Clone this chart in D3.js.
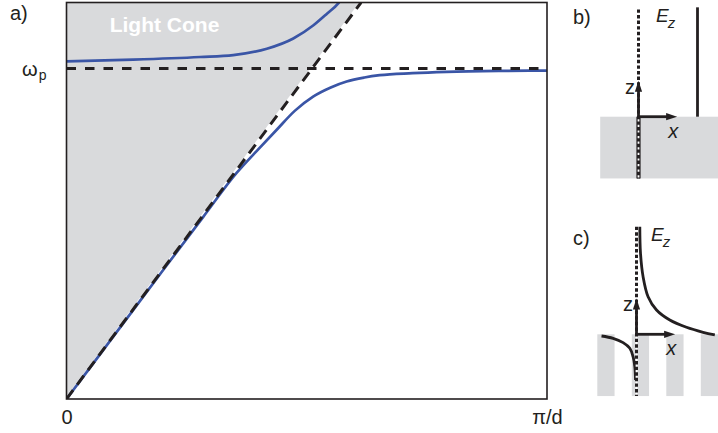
<!DOCTYPE html>
<html>
<head>
<meta charset="utf-8">
<script src="https://cdn.jsdelivr.net/npm/d3@7"></script>
<style>
  body { margin: 0; background: #fff; }
  svg { display: block; font-family: "Liberation Sans", Arial, sans-serif; }
</style>
</head>
<body>
<svg id="chart" width="718" height="433"></svg>
<script>
// ---- a) dispersion of the spoof surface plasmon (k in units of π/d, ω in units of ωp)
const kRange = [0, 1];
const omegaRange = [0, 1.2];
const omegaP = 1;
const lightLine = [[0, 0], [0.613, 1.2]];
const lightCone = [[0, 0], [0, 1.2], [0.613, 1.2]];
const lowerBand = [
  [0, 0], [0.1, 0.194], [0.2, 0.388], [0.285, 0.552], [0.354, 0.684],
  [0.4, 0.757], [0.4375, 0.815], [0.475, 0.872], [0.514, 0.916], [0.55, 0.943],
  [0.583, 0.961], [0.62, 0.973], [0.652, 0.98], [0.72, 0.986], [0.791, 0.99],
  [0.9, 0.993], [1.0, 0.994]
];
const upperBand = [
  [0, 1.022], [0.139, 1.027], [0.278, 1.035], [0.347, 1.041], [0.417, 1.06],
  [0.472, 1.091], [0.514, 1.131], [0.542, 1.166], [0.566, 1.198], [0.585, 1.24]
];
const kTickValues = [0, 1];
const kTickLabels = ["0", "π/d"];

// ---- b) flat conductor: field profile (x, z in units of d)
const flatMetal = [[-1.11, 2.32, -1.79]];          // [x0, x1, depth]
const flatFieldAbove = [[1.71, 0], [1.71, 3.17]];
const flatFieldInside = [[0, 0], [0, -1.79]];
const flatGuide = [[0, 3.11], [0, -1.79]];

// ---- c) corrugated conductor: field profile
const pillarStarts = [-1.136, -0.136, 0.864, 1.864];
const pillarWidth = 0.5;
const pillarDepth = -1.79;
const grooveFieldAbove = [
  [0.096, 3.12], [0.116, 2.35], [0.191, 1.67], [0.336, 1.09], [0.58, 0.704],
  [0.965, 0.414], [1.449, 0.203], [1.93, 0.058], [2.27, -0.02]
];
const grooveFieldInside = [
  [-1.014, -0.049], [-0.678, -0.116], [-0.388, -0.243], [-0.194, -0.406],
  [-0.099, -0.649], [-0.049, -0.939], [-0.029, -1.325]
];
const grooveGuide = [[0, 3.12], [0, -1.79]];
const axisLength = [1.12, 1.04];                    // x-arrow, z-arrow

const ink = "#231f20";
const blue = "#3a55a6";
const grey = "#d9dadc";

const svg = d3.select("#chart");

// ================= panel a =================
const x = d3.scaleLinear().domain(kRange).range([66.5, 547]);
const y = d3.scaleLinear().domain(omegaRange).range([399, 2.5]);

svg.append("clipPath").attr("id", "plot-clip")
  .append("rect")
  .attr("x", x(kRange[0])).attr("y", y(omegaRange[1]))
  .attr("width", x(kRange[1]) - x(kRange[0]))
  .attr("height", y(omegaRange[0]) - y(omegaRange[1]));

const plot = svg.append("g").attr("clip-path", "url(#plot-clip)");
const line = d3.line().x(d => x(d[0])).y(d => y(d[1]));
const smooth = d3.line().x(d => x(d[0])).y(d => y(d[1])).curve(d3.curveMonotoneX);

plot.append("path").attr("d", line(lightCone) + "Z").attr("fill", grey);

plot.append("text")
  .attr("x", 164.5).attr("y", 31.5)
  .attr("text-anchor", "middle")
  .attr("fill", "#fff").attr("font-weight", "bold").attr("font-size", 21)
  .text("Light Cone");

// white edge under the dashed light line
plot.append("path").attr("d", line(lightLine))
  .attr("stroke", "#fff").attr("stroke-width", 3).attr("fill", "none");

plot.append("path").attr("d", smooth(lowerBand))
  .attr("stroke", blue).attr("stroke-width", 2.7).attr("fill", "none");
plot.append("path").attr("d", smooth(upperBand))
  .attr("stroke", blue).attr("stroke-width", 2.7).attr("fill", "none");

plot.append("path").attr("d", line(lightLine))
  .attr("stroke", ink).attr("stroke-width", 3).attr("fill", "none")
  .attr("stroke-dasharray", "11,7");

plot.append("path").attr("d", line([[kRange[0], omegaP], [kRange[1], omegaP]]))
  .attr("stroke", ink).attr("stroke-width", 3).attr("fill", "none")
  .attr("stroke-dasharray", "9.5,9");

// frame
svg.append("rect")
  .attr("x", x(kRange[0])).attr("y", y(omegaRange[1]))
  .attr("width", x(kRange[1]) - x(kRange[0]))
  .attr("height", y(omegaRange[0]) - y(omegaRange[1]))
  .attr("fill", "none").attr("stroke", ink).attr("stroke-width", 1.6);

// k axis labels
const kAxis = svg.append("g")
  .attr("transform", `translate(0,${y(omegaRange[0])})`)
  .call(d3.axisBottom(x).tickValues(kTickValues)
    .tickFormat((d, i) => kTickLabels[i]).tickSize(0).tickPadding(11));
kAxis.select(".domain").remove();
kAxis.selectAll("text")
  .attr("font-family", "\"Liberation Sans\", Arial, sans-serif")
  .attr("font-size", 20).attr("fill", ink);

// ωp label
const wp = svg.append("text")
  .attr("x", 22).attr("y", y(omegaP) + 7)
  .attr("font-size", 20).attr("fill", ink);
wp.append("tspan").text("ω");
wp.append("tspan").attr("font-size", 14).attr("dy", 4).attr("dx", 1).text("p");

svg.append("text").attr("x", 10).attr("y", 20)
  .attr("font-size", 20).attr("fill", ink).text("a)");

// ================= insets b and c =================
const unit = 34.5;
function arrow(g, sx, sz, dir) {
  const len = dir === "x" ? axisLength[0] : axisLength[1];
  const tip = dir === "x" ? [sx(len), sz(0)] : [sx(0), sz(len)];
  const o = [sx(0), sz(0)];
  const head = 11, half = 3.6;
  if (dir === "x") {
    g.append("line").attr("x1", o[0]).attr("y1", o[1]).attr("x2", tip[0] - head + 1).attr("y2", tip[1])
      .attr("stroke", ink).attr("stroke-width", 2.8);
    g.append("path").attr("d", `M${tip[0]},${tip[1]}L${tip[0] - head},${tip[1] - half}L${tip[0] - head},${tip[1] + half}Z`)
      .attr("fill", ink);
  } else {
    g.append("line").attr("x1", o[0]).attr("y1", o[1]).attr("x2", tip[0]).attr("y2", tip[1] + head - 1)
      .attr("stroke", ink).attr("stroke-width", 2.8);
    g.append("path").attr("d", `M${tip[0]},${tip[1]}L${tip[0] - half},${tip[1] + head}L${tip[0] + half},${tip[1] + head}Z`)
      .attr("fill", ink);
  }
  return tip;
}
function guide(g, pts, ln) {
  g.append("path").attr("d", ln(pts)).attr("stroke", "#fff").attr("stroke-width", 1.8).attr("fill", "none");
  g.append("path").attr("d", ln(pts)).attr("stroke", ink).attr("stroke-width", 3)
    .attr("stroke-dasharray", "3.4,2.2").attr("fill", "none");
}
function labels(g, sx, sz, tagY, tagText, ezX, ezY) {
  g.append("text").attr("x", 573).attr("y", tagY).attr("font-size", 20).attr("fill", ink).text(tagText);
  const ez = g.append("text").attr("x", ezX).attr("y", ezY).attr("font-size", 19)
    .attr("font-style", "italic").attr("fill", ink);
  ez.append("tspan").text("E");
  ez.append("tspan").attr("font-size", 15).attr("dy", 6).attr("dx", -1).text("z");
  g.append("text").attr("x", sx(0) - 3.5).attr("y", sz(axisLength[1]) + 13)
    .attr("text-anchor", "end").attr("font-size", 20).attr("fill", ink).text("z");
  g.append("text").attr("x", sx(axisLength[0]) - 4).attr("y", sz(0) + 21)
    .attr("text-anchor", "middle").attr("font-size", 20).attr("font-style", "italic")
    .attr("fill", ink).text("x");
}

// ---- b
{
  const sx = d3.scaleLinear().domain([0, 1]).range([638.5, 638.5 + unit]);
  const sz = d3.scaleLinear().domain([0, 1]).range([116.7, 116.7 - unit]);
  const ln = d3.line().x(d => sx(d[0])).y(d => sz(d[1]));
  const g = svg.append("g");
  flatMetal.forEach(m => {
    g.append("rect").attr("x", sx(m[0])).attr("y", sz(0))
      .attr("width", sx(m[1]) - sx(m[0])).attr("height", sz(m[2]) - sz(0)).attr("fill", grey);
  });
  g.append("path").attr("d", ln(flatFieldAbove)).attr("stroke", ink).attr("stroke-width", 2.8).attr("fill", "none");
  g.append("path").attr("d", ln(flatFieldInside)).attr("stroke", ink).attr("stroke-width", 4.2).attr("fill", "none");
  guide(g, flatGuide, ln);
  arrow(g, sx, sz, "z");
  arrow(g, sx, sz, "x");
  labels(g, sx, sz, 24, "b)", 656, 22);
}

// ---- c
{
  const sx = d3.scaleLinear().domain([0, 1]).range([636.5, 636.5 + unit]);
  const sz = d3.scaleLinear().domain([0, 1]).range([334.3, 334.3 - unit]);
  const ln = d3.line().x(d => sx(d[0])).y(d => sz(d[1]));
  const lnc = d3.line().x(d => sx(d[0])).y(d => sz(d[1])).curve(d3.curveCatmullRom);
  const g = svg.append("g");
  pillarStarts.forEach(p => {
    g.append("rect").attr("x", sx(p)).attr("y", sz(0))
      .attr("width", sx(p + pillarWidth) - sx(p)).attr("height", sz(pillarDepth) - sz(0)).attr("fill", grey);
  });
  g.append("path").attr("d", lnc(grooveFieldAbove)).attr("stroke", ink).attr("stroke-width", 2.8).attr("fill", "none");
  g.append("path").attr("d", lnc(grooveFieldInside)).attr("stroke", ink).attr("stroke-width", 2.8).attr("fill", "none");
  guide(g, grooveGuide, ln);
  arrow(g, sx, sz, "z");
  arrow(g, sx, sz, "x");
  labels(g, sx, sz, 245, "c)", 651, 241);
}
</script>
</body>
</html>
